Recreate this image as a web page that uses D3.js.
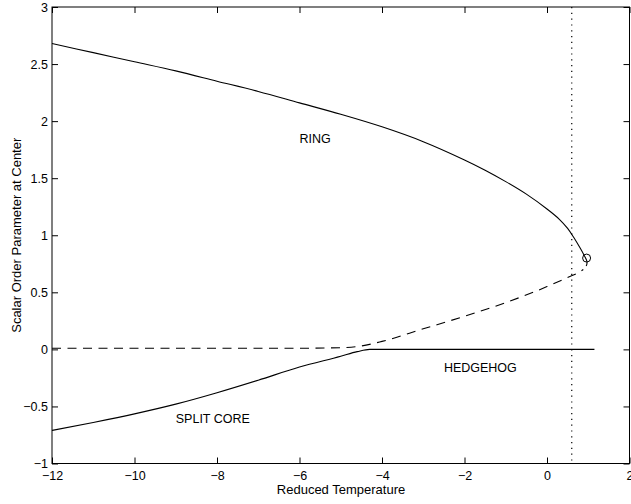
<!DOCTYPE html>
<html>
<head>
<meta charset="utf-8">
<script src="https://cdn.jsdelivr.net/npm/d3@7"></script>
<style>
  body { margin: 0; background: #fff; }
  svg { display: block; }
  text { font-family: "Liberation Sans", Arial, Helvetica, sans-serif; fill: #000; }
</style>
</head>
<body>
<div id="chart"></div>
<script>
var width = 631, height = 504;

// (reduced temperature, scalar order parameter)
var ringX  = [-12, -11, -10, -9, -8, -7, -6, -5, -4, -3, -2, -1.5, -1, -0.5, 0, 0.3, 0.5, 0.65, 0.8, 0.9, 0.95, 0.97, 0.965, 0.95];
var ringY  = [2.68, 2.60, 2.52, 2.44, 2.35, 2.26, 2.16, 2.06, 1.95, 1.82, 1.66, 1.57, 1.47, 1.36, 1.23, 1.14, 1.06, 0.98, 0.89, 0.825, 0.79, 0.765, 0.745, 0.73];
var unstX  = [-12, -10, -8, -6, -5, -4.5, -4, -3, -2, -1, 0, 0.5, 0.8, 0.88];
var unstY  = [0.01, 0.01, 0.01, 0.01, 0.015, 0.03, 0.07, 0.18, 0.29, 0.41, 0.55, 0.63, 0.68, 0.70];
var splitX = [-12, -11, -10, -9, -8, -7, -6, -5, -4.6, -4.3, -3.5, 1.15];
var splitY = [-0.71, -0.64, -0.565, -0.48, -0.38, -0.27, -0.155, -0.06, -0.02, 0, 0, 0];
var foldPt = [0.96, 0.80];
var markT  = 0.6;

var xTicks = [-12, -10, -8, -6, -4, -2, 0, 2];
var yTicks = [-1, -0.5, 0, 0.5, 1, 1.5, 2, 2.5, 3];

var labels = ["RING", "SPLIT CORE", "HEDGEHOG"];
var labelX = [-6, -9, -2.5];
var labelY = [1.85, -0.61, -0.16];

var zip = function(xs, ys){ return xs.map(function(v, i){ return [v, ys[i]]; }); };

var svg = d3.select("#chart").append("svg")
  .attr("width", width)
  .attr("height", height);

svg.append("rect").attr("width", width).attr("height", height).attr("fill", "#fff");

var x = d3.scaleLinear().domain([-12, 2]).range([52, 629.5]);
var y = d3.scaleLinear().domain([-1, 3]).range([463.5, 7]);

var fmt = function(d){ return String(d).replace("-", "\u2212"); };

// ticks point inward, on all four sides
svg.append("g")
  .attr("transform", "translate(0," + y(-1) + ")")
  .call(d3.axisBottom(x).tickValues(xTicks).tickFormat(fmt).tickSizeInner(-6).tickSizeOuter(0).tickPadding(7.5))
  .call(function(g){ g.select(".domain").remove(); });
svg.append("g")
  .attr("transform", "translate(0," + y(3) + ")")
  .call(d3.axisTop(x).tickValues(xTicks).tickFormat("").tickSizeInner(-6).tickSizeOuter(0))
  .call(function(g){ g.select(".domain").remove(); });
svg.append("g")
  .attr("transform", "translate(" + x(-12) + ",0)")
  .call(d3.axisLeft(y).tickValues(yTicks).tickFormat(fmt).tickSizeInner(-6).tickSizeOuter(0).tickPadding(4))
  .call(function(g){ g.select(".domain").remove(); });
svg.append("g")
  .attr("transform", "translate(" + x(2) + ",0)")
  .call(d3.axisRight(y).tickValues(yTicks).tickFormat("").tickSizeInner(-6).tickSizeOuter(0))
  .call(function(g){ g.select(".domain").remove(); });

svg.selectAll(".tick text").attr("font-size", "12.5px").attr("font-family", null);
svg.selectAll(".tick line").attr("stroke", "#000");

svg.append("rect")
  .attr("x", x(-12)).attr("y", y(3))
  .attr("width", x(2) - x(-12)).attr("height", y(-1) - y(3))
  .attr("fill", "none").attr("stroke", "#000").attr("stroke-width", 1);

var ringLine = d3.line()
  .x(function(d){ return x(d[0]); })
  .y(function(d){ return y(d[1]); })
  .curve(d3.curveCatmullRom.alpha(0.5));

var line = d3.line()
  .x(function(d){ return x(d[0]); })
  .y(function(d){ return y(d[1]); })
  .curve(d3.curveMonotoneX);

svg.append("line")
  .attr("x1", x(markT)).attr("x2", x(markT))
  .attr("y1", y(3)).attr("y2", y(-1))
  .attr("stroke", "#000").attr("stroke-width", 1.2)
  .attr("stroke-dasharray", "1.2,4.6");

svg.append("path").datum(zip(ringX, ringY))
  .attr("d", ringLine).attr("fill", "none").attr("stroke", "#000").attr("stroke-width", 1.1);
svg.append("path").datum(zip(unstX, unstY))
  .attr("d", line).attr("fill", "none").attr("stroke", "#000").attr("stroke-width", 1.1)
  .attr("stroke-dasharray", "9,6.5");
svg.append("path").datum(zip(splitX, splitY))
  .attr("d", line).attr("fill", "none").attr("stroke", "#000").attr("stroke-width", 1.1);

svg.append("circle")
  .attr("cx", x(foldPt[0])).attr("cy", y(foldPt[1])).attr("r", 4)
  .attr("fill", "none").attr("stroke", "#000").attr("stroke-width", 1);

svg.selectAll(".lbl").data(labels).enter().append("text")
  .attr("class", "lbl")
  .attr("x", function(d, i){ return x(labelX[i]); })
  .attr("y", function(d, i){ return y(labelY[i]); })
  .attr("dy", "0.36em")
  .attr("font-size", "12.5px")
  .text(function(d){ return d; });

svg.append("text")
  .attr("x", 341).attr("y", 493.5)
  .attr("text-anchor", "middle")
  .attr("font-size", "13px")
  .text("Reduced Temperature");

svg.append("text")
  .attr("transform", "translate(21," + ((y(3) + y(-1)) / 2) + ") rotate(-90)")
  .attr("text-anchor", "middle")
  .attr("font-size", "13px")
  .text("Scalar Order Parameter at Center");
</script>
</body>
</html>
